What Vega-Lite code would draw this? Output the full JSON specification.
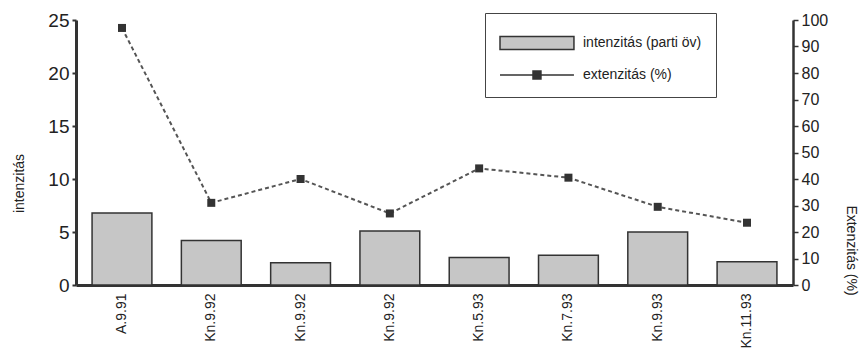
{
  "$schema": "https://vega.github.io/schema/vega-lite/v6.json",
  "width": 717,
  "height": 265,
  "autosize": "none",
  "padding": {"left": 76, "top": 20, "right": 73, "bottom": 76},
  "background": "white",
  "config": {
    "view": {"stroke": null},
    "font": "Liberation Sans",
    "axis": {"grid": false, "domainColor": "#333", "tickColor": "#333", "labelColor": "#222", "titleColor": "#222", "titleFontWeight": "normal"},
    "legend": {
      "orient": "none", "legendX": 409, "legendY": -7, "title": null,
      "padding": 14, "strokeColor": "#444", "fillColor": "white",
      "labelFontSize": 14, "labelColor": "#222", "symbolSize": 900, "rowPadding": 6, "labelOffset": 52,
      "symbolOpacity": 1, "symbolStrokeWidth": 1.5
    }
  },
  "datasets": {
    "main": [
      {"id": "A.9.91|1", "intenzitas": 6.8, "extenzitas": 97},
      {"id": "Kn.9.92|2", "intenzitas": 4.2, "extenzitas": 31},
      {"id": "Kn.9.92|3", "intenzitas": 2.1, "extenzitas": 40},
      {"id": "Kn.9.92|4", "intenzitas": 5.1, "extenzitas": 27},
      {"id": "Kn.5.93|5", "intenzitas": 2.6, "extenzitas": 44},
      {"id": "Kn.7.93|6", "intenzitas": 2.8, "extenzitas": 40.5},
      {"id": "Kn.9.93|7", "intenzitas": 5.0, "extenzitas": 29.5},
      {"id": "Kn.11.93|8", "intenzitas": 2.2, "extenzitas": 23.5}
    ],
    "series": [
      {"series": "intenzitás (parti öv)"},
      {"series": "extenzitás (%)"}
    ]
  },
  "layer": [
    {
      "data": {"name": "main"},
      "mark": {"type": "bar", "stroke": "#333", "strokeWidth": 1.5, "fill": "#c6c6c6"},
      "encoding": {
        "x": {
          "field": "id", "type": "nominal", "sort": null,
          "scale": {"paddingInner": 0.33, "paddingOuter": 0.18},
          "axis": {"title": null, "labelExpr": "split(datum.value,'|')[0]", "labelAngle": -90, "labelFontSize": 14, "labelPadding": 8, "ticks": false, "domainWidth": 3}
        },
        "y": {
          "field": "intenzitas", "type": "quantitative",
          "scale": {"domain": [0, 25]},
          "axis": {"title": "intenzitás", "values": [0, 5, 10, 15, 20, 25], "labelFontSize": 19, "titleFontSize": 14, "domainWidth": 3, "tickSize": 4, "tickWidth": 2, "labelPadding": 3, "titleX": -50, "titleY": 163}
        }
      }
    },
    {
      "data": {"name": "main"},
      "encoding": {
        "x": {"field": "id", "type": "nominal", "sort": null},
        "y": {
          "field": "extenzitas", "type": "quantitative",
          "scale": {"domain": [0, 100]},
          "axis": {"orient": "right", "title": "Extenzitás (%)", "values": [0, 10, 20, 30, 40, 50, 60, 70, 80, 90, 100], "labelFontSize": 16, "titleFontSize": 14, "domainWidth": 2.5, "tickSize": 5, "tickWidth": 1.5, "labelPadding": 3, "titleX": 50, "titleY": 230}
        }
      },
      "layer": [
        {"mark": {"type": "line", "color": "#555", "strokeWidth": 2, "strokeDash": [4, 3]}},
        {"mark": {"type": "point", "shape": "square", "filled": true, "size": 64, "opacity": 1, "color": "#333"}}
      ]
    },
    {
      "data": {"name": "series"},
      "mark": {"type": "point", "filled": true, "opacity": 0, "strokeWidth": 1.5},
      "encoding": {
        "color": {
          "field": "series", "type": "nominal",
          "scale": {"domain": ["intenzitás (parti öv)", "extenzitás (%)"], "range": ["#c6c6c6", "#333333"]},
          "legend": {"labelExpr": "datum.label + '\u00a0\u00a0\u00a0\u00a0\u00a0'"}
        },
        "stroke": {
          "field": "series", "type": "nominal",
          "scale": {"domain": ["intenzitás (parti öv)", "extenzitás (%)"], "range": ["#333333", "#333333"]},
          "legend": {"labelExpr": "datum.label + '\u00a0\u00a0\u00a0\u00a0\u00a0'"}
        },
        "shape": {
          "field": "series", "type": "nominal",
          "scale": {"domain": ["intenzitás (parti öv)", "extenzitás (%)"], "range": ["M-1,-0.43H3.93V0.43H-1Z", "M-1,0H3.93M1.2,-0.27H1.73V0.27H1.2Z"]},
          "legend": {"labelExpr": "datum.label + '\u00a0\u00a0\u00a0\u00a0\u00a0'"}
        }
      }
    }
  ],
  "resolve": {"scale": {"y": "independent"}}
}
